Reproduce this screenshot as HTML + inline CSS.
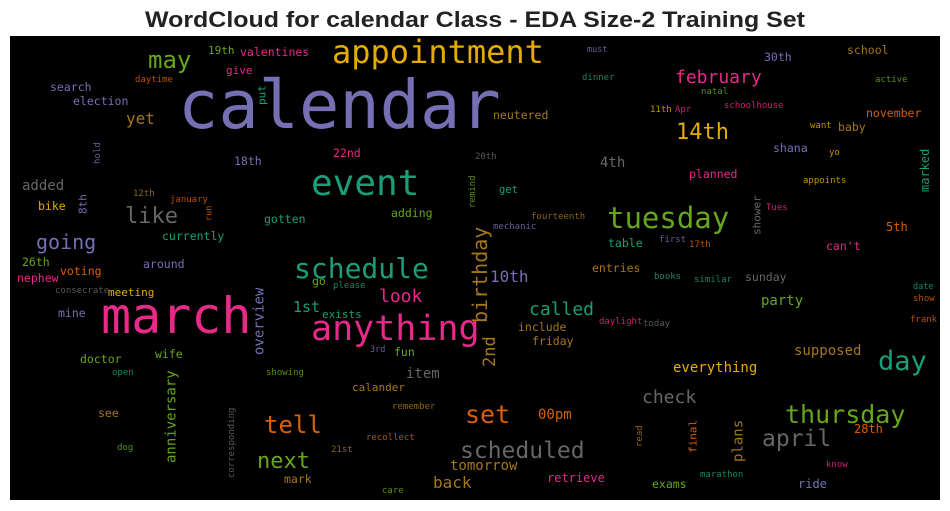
<!DOCTYPE html>
<html><head><meta charset="utf-8"><style>
html,body{margin:0;padding:0;background:#fff;}
svg{display:block;}
text.w{font-family:"DejaVu Sans Mono","Liberation Mono",monospace;}
</style></head><body>
<svg id="chart" width="950" height="511" xmlns="http://www.w3.org/2000/svg">
<text x="475" y="27" text-anchor="middle" font-family="Liberation Sans, sans-serif" font-weight="bold" font-size="22" fill="#222" textLength="660" lengthAdjust="spacingAndGlyphs">WordCloud for calendar Class - EDA Size-2 Training Set</text>
<rect x="10" y="36" width="930" height="464" fill="#000"/>
<g id="words"></g>
</svg>
<script>
// word, font size (frequency-driven), colour index, vertical flag, layout (left x, baseline y / top y for vertical)
const words = ["calendar","appointment","march","anything","event","schedule","tuesday","thursday","day","scheduled","april","set","tell","next","may","14th","like","going","february","check","look","called","birthday","2nd","overview","anniversary","10th","1st","yet","added","4th","party","everything","supposed","item","00pm","tomorrow","retrieve","calander","28th","plans","final","exams","ride","marathon","know","read","date","show","frank","today","daylight","sunday","similar","books","entries","table","first","17th","can't","5th","Tues","shower","appoints","marked","planned","shana","yo","want","baby","november","active","school","30th","natal","schoolhouse","11th","Apr","must","dinner","neutered","22nd","20th","get","adding","remind","fourteenth","mechanic","19th","valentines","give","daytime","put","search","election","hold","18th","12th","january","bike","8th","run","gotten","currently","26th","around","voting","nephew","consecrate","meeting","mine","go","please","exists","doctor","wife","open","showing","3rd","fun","include","friday","remember","see","corresponding","dog","recollect","21st","mark","care","back"];
const sizes = [67,32,50,35,36,28,29,25,27,23,23,25,24,22,24,22,22,20,18,18,18,18,20,17,14,14,16,15,16,14,14,14,14,14,14,14,14,12,11,12,14,11,11.5,12,9,9,9,8.5,9,9,9,9,11.5,9,9,11.5,11.5,9,9,11.5,12,9,11,9,12,11.5,11.5,9,9,11.5,11.5,9,11.5,11.5,9,9,9,9,8.5,9,11.5,11.5,9,10.5,11.5,9,9,9,11,11.5,11,9,11,11.5,11.5,9,11.5,9,9,11.5,11,8.5,11.5,11.5,11.5,11.5,11.5,11.5,9,11,11.5,11.5,9,11,11.5,11.5,9,9,8.5,11.5,11.5,11.5,9,11.5,9,9,9,9,11.5,9];
const colorIdx = [2,5,3,3,0,0,4,4,0,7,7,1,1,4,4,5,7,2,3,7,3,0,6,6,2,4,2,0,6,7,7,4,5,6,7,1,6,3,6,1,6,1,4,2,0,3,6,0,1,1,7,3,7,0,0,6,0,2,1,3,1,3,7,5,0,3,2,5,5,6,1,4,6,2,4,3,5,3,2,0,6,3,7,0,4,4,6,2,4,3,3,1,0,2,2,2,2,6,1,5,2,1,0,0,4,2,1,3,7,5,2,4,0,0,4,4,0,4,2,4,6,6,6,6,7,4,1,6,6,4,6];
const vertical = ["birthday","2nd","overview","anniversary","plans","final","read","shower","marked","remind","put","hold","8th","run","corresponding"];
const posX = [178,332,101,311,311,294,607,785,878,460,762,465,264,257,148,676,125,36,675,642,379,529,472,482,253,165,490,293,126,22,600,761,673,794,406,538,450,547,352,854,732,688,652,798,700,826,635,913,913,910,643,599,745,694,654,592,608,659,689,826,886,766,752,803,920,689,773,829,810,838,866,875,847,764,701,724,650,675,587,582,493,333,475,499,391,468,531,493,208,240,226,135,257,50,73,93,234,133,170,38,78,205,264,162,22,143,60,17,55,108,58,312,333,322,80,155,112,266,370,394,518,532,392,98,227,117,366,331,284,382,433];
const posY = [128,63,333,340,195,278,228,423,370,458,446,423,433,468,68,139,223,249,83,403,302,315,228,337,287,372,282,312,124,190,167,305,372,355,378,419,470,482,391,433,420,420,488,488,477,467,427,289,301,322,326,324,281,282,279,272,247,242,247,250,231,210,195,183,149,178,152,155,128,131,117,82,54,61,94,108,112,112,52,80,119,157,159,193,217,176,219,229,54,56,74,82,85,91,105,143,165,196,202,210,194,206,223,240,266,268,275,282,293,296,317,285,288,318,363,358,375,375,352,356,331,345,409,417,407,450,440,452,483,493,488];
const palette = ["#1b9e77","#d95f02","#7570b3","#e7298a","#66a61e","#e6ab02","#a6761d","#666666"];
const vLen = {"birthday":95,"2nd":30,"overview":68,"anniversary":91,"plans":42,"final":33,"read":20,"shower":40,"marked":43,"remind":32,"put":20,"hold":21,"8th":20,"run":15,"corresponding":71};

const g = document.getElementById('words');
const NS = 'http://www.w3.org/2000/svg';
for (let i = 0; i < words.length; i++) {
  const t = document.createElementNS(NS, 'text');
  
  
  t.setAttribute('class', 'w');
  const s = sizes[i];
  t.setAttribute('font-size', s);
  t.setAttribute('fill', palette[colorIdx[i]]);
  if (s < 10) t.setAttribute('fill-opacity', '0.85');
  if (vertical.indexOf(words[i]) >= 0) {
    const bx = posX[i] + 0.76 * s;
    const by = posY[i] + vLen[words[i]];
    t.setAttribute('x', bx);
    t.setAttribute('y', by);
    t.setAttribute('transform', 'rotate(-90 ' + bx + ' ' + by + ')');
  } else {
    t.setAttribute('x', posX[i]);
    t.setAttribute('y', posY[i]);
  }
  t.textContent = words[i];
  g.appendChild(t);
}
</script>
</body></html>
